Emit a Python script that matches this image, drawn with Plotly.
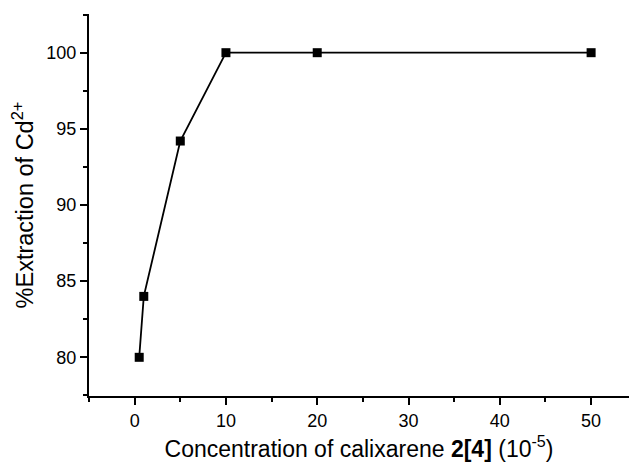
import plotly.graph_objects as go

conc = [0.5, 1, 5, 10, 20, 50]
extraction = [80, 84, 94.2, 100, 100, 100]

fig = go.Figure()
fig.add_trace(go.Scatter(
    x=conc, y=extraction, mode="lines+markers",
    line=dict(color="black", width=1.8),
    marker=dict(symbol="square", size=9, color="black"),
    showlegend=False,
))

font = "Liberation Sans, Arial, sans-serif"
fig.update_layout(
    width=629, height=464,
    margin=dict(l=89, r=0, t=14, b=68),
    paper_bgcolor="white", plot_bgcolor="white",
    font=dict(family=font, color="black", size=18),
    xaxis=dict(
        range=[-5, 54.15], tick0=0, dtick=10, automargin=False,
        showline=True, linecolor="black", linewidth=2,
        ticks="outside", ticklen=7, tickwidth=2, tickcolor="black",
        showgrid=False, zeroline=False,
        tickfont=dict(size=18),
        minor=dict(dtick=5, tick0=0, ticks="outside", ticklen=4, tickwidth=2, tickcolor="black"),
        title=dict(text="Concentration of calixarene <b>2[4]</b> (10<sup>-5</sup>)",
                   font=dict(size=23), standoff=11),
    ),
    yaxis=dict(
        range=[77.46, 102.54], tick0=80, dtick=5, automargin=False,
        showline=True, linecolor="black", linewidth=2,
        ticks="outside", ticklen=7, tickwidth=2, tickcolor="black",
        showgrid=False, zeroline=False,
        tickfont=dict(size=18),
        minor=dict(dtick=2.5, tick0=80, ticks="outside", ticklen=4, tickwidth=2, tickcolor="black"),
        title=dict(text="%Extraction of Cd<sup>2+</sup>", font=dict(size=23.5), standoff=6),
    ),
)

fig.write_html("out.html", config={"displayModeBar": False},
               post_script="document.body.style.margin='0';")
